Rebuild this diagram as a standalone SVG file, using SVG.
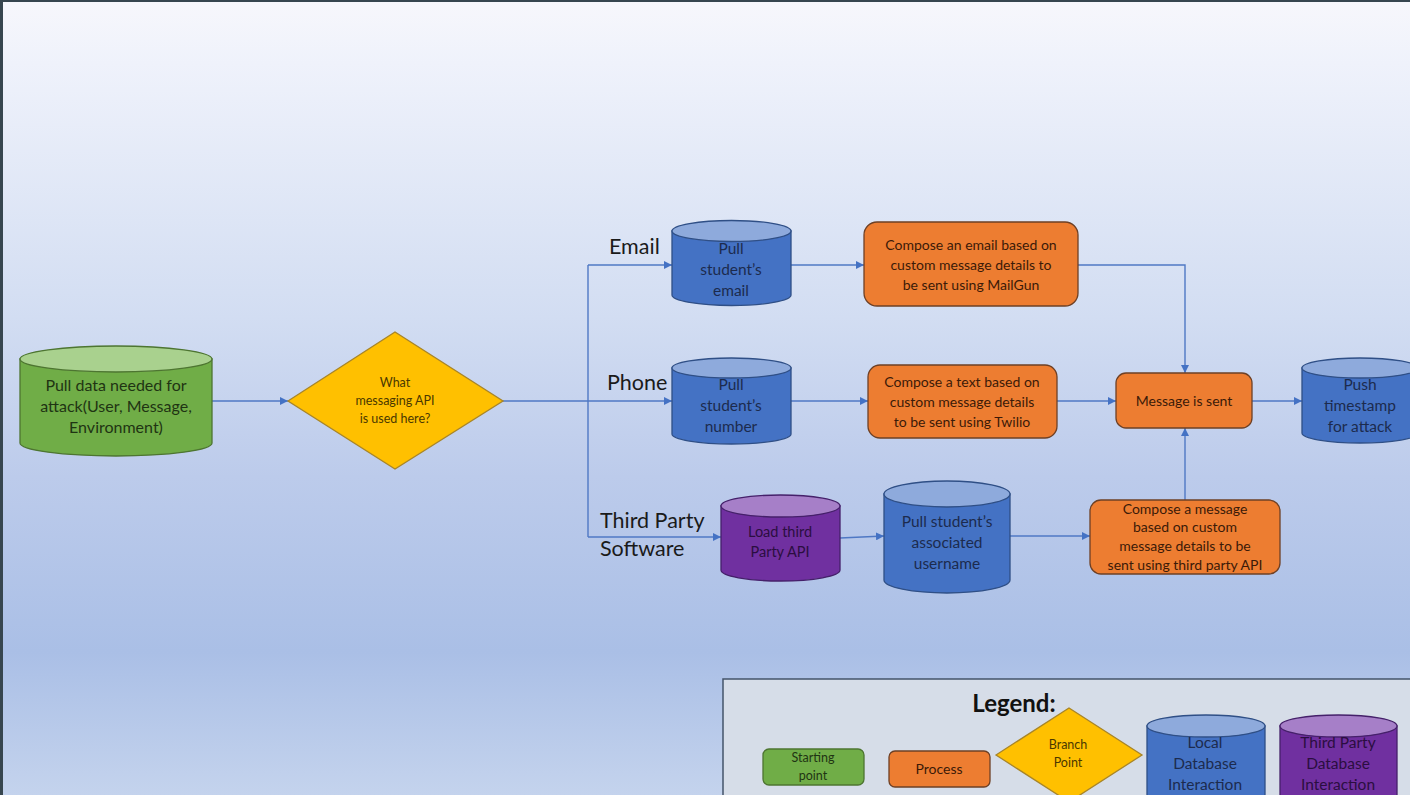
<svg xmlns="http://www.w3.org/2000/svg" width="1410" height="795" viewBox="0 0 1410 795">
  <defs>
    <linearGradient id="bg" x1="0" y1="0" x2="0" y2="1">
      <stop offset="0" stop-color="#f7f7fc"/>
      <stop offset="0.08" stop-color="#eff2fb"/>
      <stop offset="0.4" stop-color="#d2ddf2"/>
      <stop offset="0.6" stop-color="#bccbeb"/>
      <stop offset="0.82" stop-color="#aabfe6"/>
      <stop offset="1" stop-color="#c4d3ed"/>
    </linearGradient>
    <marker id="arrow" viewBox="0 0 10 10" refX="10" refY="5" markerWidth="8" markerHeight="8" markerUnits="userSpaceOnUse" orient="auto">
      <path d="M0,0 L10,5 L0,10 Z" fill="#4472c4"/>
    </marker>
    <style>
      text { font-family: Lato, "Open Sans", "Liberation Sans", sans-serif; text-anchor: middle; }
      .conn { fill: none; stroke: #4f78c4; stroke-width: 1.4; }
      .proc { fill: #ed7d31; stroke: #6e4025; stroke-width: 1.3; }
      .proc-t { fill: #3b1a08; font-size: 14px; }
      .start { fill: #70ad47; stroke: #4d7531; stroke-width: 1.3; }
      .start-top { fill: #a9d18e; stroke: #4d7531; stroke-width: 1.3; }
      .start-t { fill: #1f3413; font-size: 16px; }
      .db { fill: #4472c4; stroke: #2f4f86; stroke-width: 1.3; }
      .db-top { fill: #8eaadc; stroke: #2f4f86; stroke-width: 1.3; }
      .db-t { fill: #1c2b4e; font-size: 15.5px; }
      .tp { fill: #7030a0; stroke: #45206a; stroke-width: 1.3; }
      .tp-top { fill: #a67fc8; stroke: #45206a; stroke-width: 1.3; }
      .tp-t { fill: #2b0e40; font-size: 14.5px; }
      .branch { fill: #ffc000; stroke: #a88528; stroke-width: 1.3; }
      .branch-t { fill: #4a3800; font-size: 12.5px; }
      .lbl { fill: #1a1a1a; font-size: 21.5px; text-anchor: start; }
    </style>
  </defs>

  <!-- page background with dark frame on top and left -->
  <rect x="0" y="0" width="1410" height="795" fill="url(#bg)"/>
  <rect x="0" y="0" width="1410" height="2" fill="#37464f"/>
  <rect x="0" y="0" width="3" height="795" fill="#37464f"/>

  <!-- connectors -->
  <g id="connectors">
    <path class="conn" d="M212,401 H288" marker-end="url(#arrow)"/>
    <path class="conn" d="M503,401 H672" marker-end="url(#arrow)"/>
    <path class="conn" d="M588,265 V537"/>
    <path class="conn" d="M588,265 H672" marker-end="url(#arrow)"/>
    <path class="conn" d="M588,537 H721" marker-end="url(#arrow)"/>
    <path class="conn" d="M791,265 H864" marker-end="url(#arrow)"/>
    <path class="conn" d="M791,401 H868" marker-end="url(#arrow)"/>
    <path class="conn" d="M840,538 L884,536" marker-end="url(#arrow)"/>
    <path class="conn" d="M1010,536 H1090" marker-end="url(#arrow)"/>
    <path class="conn" d="M1078,265 H1185 V373" marker-end="url(#arrow)"/>
    <path class="conn" d="M1057,401 H1116" marker-end="url(#arrow)"/>
    <path class="conn" d="M1185,500 V428" marker-end="url(#arrow)"/>
    <path class="conn" d="M1252,401 H1302" marker-end="url(#arrow)"/>
  </g>

  <!-- branch labels -->
  <g id="branch-labels">
    <text class="lbl" x="609" y="254">Email</text>
    <text class="lbl" x="607" y="390">Phone</text>
    <text class="lbl" x="600" y="528">Third Party</text>
    <text class="lbl" x="600" y="556">Software</text>
  </g>

  <!-- start: pull data -->
  <g id="pull-data">
    <path class="start" d="M20,359 V443 A96,13 0 0 0 212,443 V359 Z"/>
    <ellipse class="start-top" cx="116" cy="359" rx="96" ry="13"/>
    <text class="start-t" x="116" y="391">Pull data needed for</text>
    <text class="start-t" x="116" y="412">attack(User, Message,</text>
    <text class="start-t" x="116" y="433">Environment)</text>
  </g>

  <!-- decision -->
  <g id="which-api">
    <polygon class="branch" points="288,401 395,332 503,401 395,469"/>
    <text class="branch-t" x="395" y="387">What</text>
    <text class="branch-t" x="395" y="405">messaging API</text>
    <text class="branch-t" x="395" y="423">is used here?</text>
  </g>

  <!-- email branch -->
  <g id="pull-email">
    <path class="db" d="M672,231 V295 A59.5,10.5 0 0 0 791,295 V231 Z"/>
    <ellipse class="db-top" cx="731.5" cy="231" rx="59.5" ry="10.5"/>
    <text class="db-t" x="731" y="254">Pull</text>
    <text class="db-t" x="731" y="275">student’s</text>
    <text class="db-t" x="731" y="296">email</text>
  </g>
  <g id="compose-email">
    <rect class="proc" x="864" y="222" width="214" height="84" rx="13"/>
    <text class="proc-t" x="971" y="250">Compose  an email based on</text>
    <text class="proc-t" x="971" y="270">custom message details to</text>
    <text class="proc-t" x="971" y="290">be sent using MailGun</text>
  </g>

  <!-- phone branch -->
  <g id="pull-number">
    <path class="db" d="M672,368 V434 A59.5,10 0 0 0 791,434 V368 Z"/>
    <ellipse class="db-top" cx="731.5" cy="368" rx="59.5" ry="10"/>
    <text class="db-t" x="731" y="390">Pull</text>
    <text class="db-t" x="731" y="411">student’s</text>
    <text class="db-t" x="731" y="432">number</text>
  </g>
  <g id="compose-text">
    <rect class="proc" x="868" y="365" width="189" height="73" rx="12"/>
    <text class="proc-t" x="962" y="387">Compose  a text based on</text>
    <text class="proc-t" x="962" y="407">custom message details</text>
    <text class="proc-t" x="962" y="427">to be sent using Twilio</text>
  </g>

  <!-- message sent and timestamp -->
  <g id="message-sent">
    <rect class="proc" x="1116" y="373" width="136" height="55" rx="10"/>
    <text class="proc-t" x="1184" y="406">Message is sent</text>
  </g>
  <g id="push-timestamp">
    <path class="db" d="M1302,368 V433 A58,10 0 0 0 1418,433 V368 Z"/>
    <ellipse class="db-top" cx="1360" cy="368" rx="58" ry="10"/>
    <text class="db-t" x="1360" y="390">Push</text>
    <text class="db-t" x="1360" y="411">timestamp</text>
    <text class="db-t" x="1360" y="432">for attack</text>
  </g>

  <!-- third party branch -->
  <g id="load-third-party">
    <path class="tp" d="M721,506 V570 A59.5,11 0 0 0 840,570 V506 Z"/>
    <ellipse class="tp-top" cx="780.5" cy="506" rx="59.5" ry="11"/>
    <text class="tp-t" x="780" y="537">Load third</text>
    <text class="tp-t" x="780" y="557">Party API</text>
  </g>
  <g id="pull-username">
    <path class="db" d="M884,494 V580 A63,13 0 0 0 1010,580 V494 Z"/>
    <ellipse class="db-top" cx="947" cy="494" rx="63" ry="13"/>
    <text class="db-t" x="947" y="527">Pull student’s</text>
    <text class="db-t" x="947" y="548">associated</text>
    <text class="db-t" x="947" y="569">username</text>
  </g>
  <g id="compose-third-party">
    <rect class="proc" x="1090" y="500" width="190" height="74" rx="11"/>
    <text class="proc-t" x="1185" y="514">Compose  a message</text>
    <text class="proc-t" x="1185" y="532">based on custom</text>
    <text class="proc-t" x="1185" y="551">message details to be</text>
    <text class="proc-t" x="1185" y="570">sent using third party API</text>
  </g>

  <!-- legend -->
  <g id="legend">
    <rect x="723" y="679" width="700" height="130" fill="#d6dde8" stroke="#44546a" stroke-width="1.5"/>
    <text x="1014" y="712" font-size="24" font-weight="bold" fill="#111">Legend:</text>
    <rect class="start" x="763" y="749" width="101" height="36" rx="6"/>
    <text class="branch-t" x="813" y="762" style="fill:#1f3413">Starting</text>
    <text class="branch-t" x="813" y="780" style="fill:#1f3413">point</text>
    <rect class="proc" x="889" y="751" width="101" height="36" rx="6"/>
    <text class="proc-t" x="939" y="774">Process</text>
    <polygon class="branch" points="996,755 1069,708 1142,755 1069,802"/>
    <text class="branch-t" x="1068" y="749">Branch</text>
    <text class="branch-t" x="1068" y="767">Point</text>
    <path class="db" d="M1147,726 V800 A59,11 0 0 0 1265,800 V726 Z"/>
    <ellipse class="db-top" cx="1206" cy="726" rx="59" ry="11"/>
    <text class="db-t" x="1205" y="748">Local</text>
    <text class="db-t" x="1205" y="769">Database</text>
    <text class="db-t" x="1205" y="790">Interaction</text>
    <path class="tp" d="M1280,726 V800 A58.5,11 0 0 0 1397,800 V726 Z"/>
    <ellipse class="tp-top" cx="1338.5" cy="726" rx="58.5" ry="11"/>
    <text class="tp-t" x="1338" y="748" style="font-size:15.5px">Third Party</text>
    <text class="tp-t" x="1338" y="769" style="font-size:15.5px">Database</text>
    <text class="tp-t" x="1338" y="790" style="font-size:15.5px">Interaction</text>
  </g>
</svg>
